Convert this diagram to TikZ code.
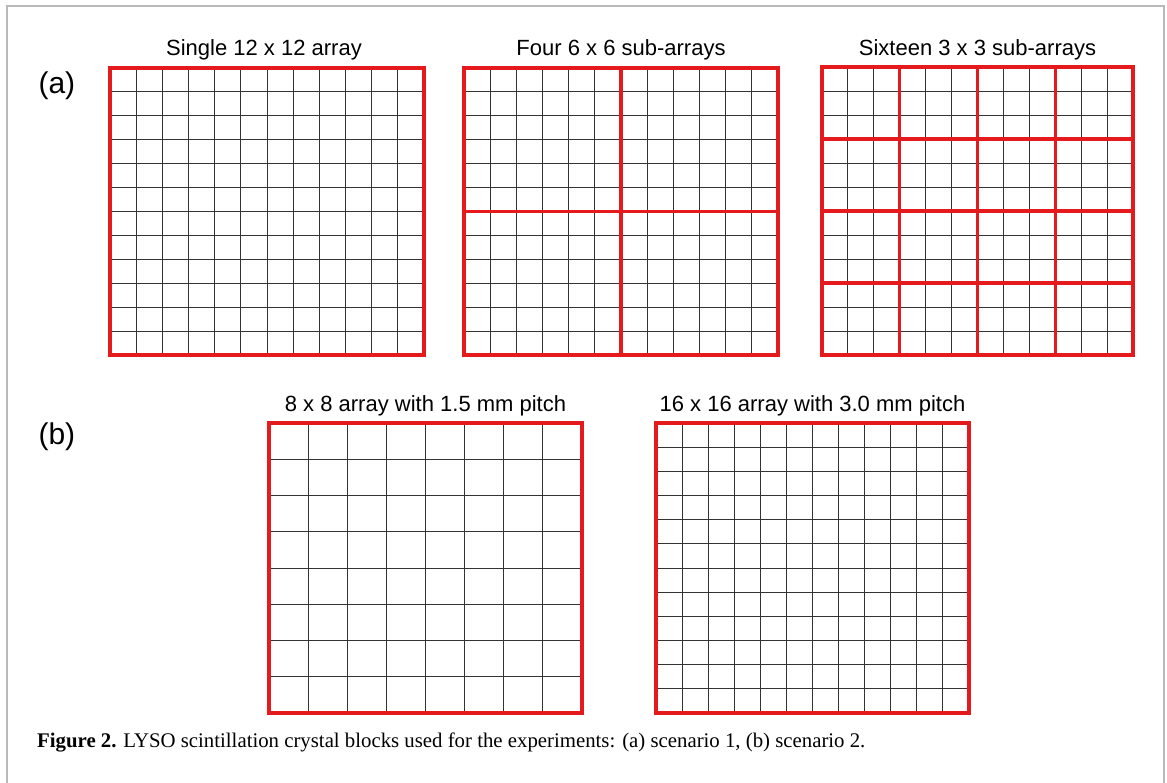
\documentclass[tikz,border=0pt]{standalone}
\usepackage{fontspec}
\setmainfont{Liberation Serif}
\setsansfont{Liberation Sans}
\usepackage{xcolor}
\usetikzlibrary{positioning}
\definecolor{gridred}{RGB}{228,26,28}
\definecolor{framegray}{RGB}{185,185,185}

\begin{document}
\begin{tikzpicture}[x=1pt,y=-1pt,
    thingrid/.style={line width=1pt, black!80},
    redgrid/.style={line width=3.2pt, gridred},
    arraytitle/.style={font=\sffamily\fontsize{22}{26}\selectfont, anchor=base},
    partlabel/.style={font=\sffamily\fontsize{30}{34}\selectfont, anchor=base west}]
  \useasboundingbox (0,0) rectangle (1167,782);

  % outer frame
  \draw[framegray, line width=1.8pt] (7,790) -- (7,6) -- (1164,6) -- (1164,790);

  % part labels
  \node[partlabel] (parta) at (35,93) {(a)};
  \node[partlabel] (partb) at (35,444) {(b)};

  % titles
  \node[arraytitle] (tsingle) at (264,55) {Single 12 x 12 array};
  \node[arraytitle] (tfour) at (621,55) {Four 6 x 6 sub-arrays};
  \node[arraytitle] (tsixteen) at (977.5,55) {Sixteen 3 x 3 sub-arrays};
  \node[arraytitle] (teight) at (425.5,411) {8 x 8 array with 1.5 mm pitch};
  \node[arraytitle] (tfine) at (812.5,411) {16 x 16 array with 3.0 mm pitch};

  % single 12 x 12 array
  \begin{scope}[xshift=110pt, yshift=-68pt, x=26.17pt, y=-23.92pt]
    \foreach \i in {1,...,11}{
      \draw[thingrid] (\i,0) -- (\i,12);
      \draw[thingrid] (0,\i) -- (12,\i);
    }
    \draw[redgrid] (0,0) rectangle (12,12);
  \end{scope}

  % four 6 x 6 sub-arrays
  \begin{scope}[xshift=464pt, yshift=-68pt, x=26.17pt, y=-23.92pt]
    \foreach \i in {1,...,11}{
      \draw[thingrid] (\i,0) -- (\i,12);
      \draw[thingrid] (0,\i) -- (12,\i);
    }
    \draw[redgrid] (6,0) -- (6,12);
    \draw[redgrid] (0,6) -- (12,6);
    \draw[redgrid] (0,0) rectangle (12,12);
  \end{scope}

  % sixteen 3 x 3 sub-arrays
  \begin{scope}[xshift=822pt, yshift=-67pt, x=25.92pt, y=-24pt]
    \foreach \i in {1,...,11}{
      \draw[thingrid] (\i,0) -- (\i,12);
      \draw[thingrid] (0,\i) -- (12,\i);
    }
    \foreach \k in {3,6,9}{
      \draw[redgrid] (\k,0) -- (\k,12);
      \draw[redgrid] (0,\k) -- (12,\k);
    }
    \draw[redgrid] (0,0) rectangle (12,12);
  \end{scope}

  % 8 x 8 array, 1.5 mm pitch
  \begin{scope}[xshift=269pt, yshift=-423pt, x=39.13pt, y=-36.25pt]
    \foreach \i in {1,...,7}{
      \draw[thingrid] (\i,0) -- (\i,8);
      \draw[thingrid] (0,\i) -- (8,\i);
    }
    \draw[redgrid] (0,0) rectangle (8,8);
  \end{scope}

  % 16 x 16 array, 3.0 mm pitch
  \begin{scope}[xshift=656pt, yshift=-423pt, x=26.08pt, y=-24.17pt]
    \foreach \i in {1,...,11}{
      \draw[thingrid] (\i,0) -- (\i,12);
      \draw[thingrid] (0,\i) -- (12,\i);
    }
    \draw[redgrid] (0,0) rectangle (12,12);
  \end{scope}

  % caption
  \node[anchor=base west, inner sep=0pt, font=\fontsize{20.8}{24}\selectfont] (caption) at (37,747)
    {\textbf{Figure 2.} LYSO scintillation crystal blocks used for the experiments: (a) scenario 1, (b) scenario 2.};
\end{tikzpicture}
\end{document}
